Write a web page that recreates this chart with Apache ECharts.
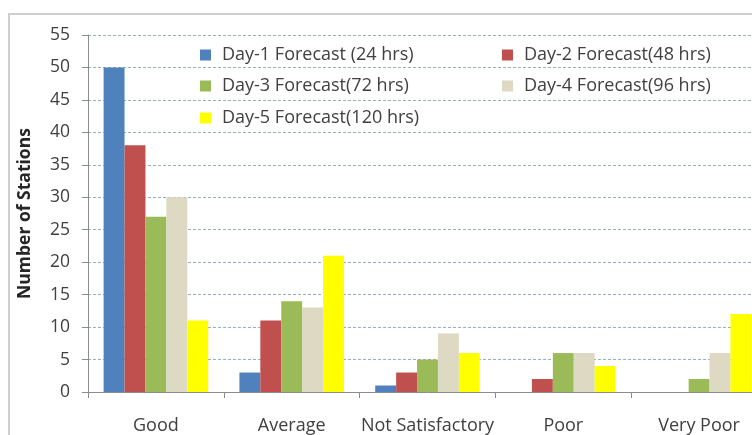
<!DOCTYPE html>
<html><head><meta charset="utf-8">
<script src="https://cdn.jsdelivr.net/npm/echarts@6/dist/echarts.min.js"></script>
<style>html,body{margin:0;padding:0;background:#fff;overflow:hidden;width:752px;height:435px}#c{width:770px;height:435px}</style>
</head><body><div id="c"></div>
<script>
const categories = ['Good', 'Average', 'Not Satisfactory', 'Poor', 'Very Poor'];
const seriesNames = ['Day-1 Forecast (24 hrs)', 'Day-2 Forecast(48 hrs)', 'Day-3 Forecast(72 hrs)', 'Day-4 Forecast(96 hrs)', 'Day-5 Forecast(120 hrs)'];
const day1 = [50, 3, 1, 0, 0];
const day2 = [38, 11, 3, 2, 0];
const day3 = [27, 14, 5, 6, 2];
const day4 = [30, 13, 9, 6, 6];
const day5 = [11, 21, 6, 4, 12];
const yTicks = [0, 55, 5]; // min, max, interval
const colors = ['#4F81BD', '#C0504D', '#9BBB59', '#DDD9C3', '#FFFF00'];

const font = 'Open Sans';
const values = [day1, day2, day3, day4, day5];
const legendPos = [[200, 46], [502, 46], [200, 77], [502, 77], [200, 109]];

const chart = echarts.init(document.getElementById('c'));
chart.setOption({
  animation: false,
  color: colors,
  textStyle: { fontFamily: font },
  graphic: [{ type: 'rect', shape: { x: 9, y: 14, width: 900, height: 600 }, style: { fill: 'none', stroke: '#cfcfcf', lineWidth: 2 }, silent: true }],
  legend: seriesNames.map((n, i) => ({
    data: [n], left: legendPos[i][0], top: legendPos[i][1], padding: 0,
    itemWidth: 11, itemHeight: 11, icon: 'rect',
    textStyle: { fontFamily: font, fontSize: 18, color: '#404040', padding: [0, 0, 0, 6] }
  })),
  grid: { left: 88, top: 35, bottom: 42, right: 3, containLabel: false },
  xAxis: {
    type: 'category', data: categories,
    axisLine: { lineStyle: { color: '#8c8c8c', width: 1 } },
    axisTick: { show: true, length: 6, lineStyle: { color: '#8c8c8c' } },
    axisLabel: { fontSize: 18, color: '#404040', margin: 25, fontFamily: font, interval: 0 }
  },
  yAxis: {
    type: 'value', min: yTicks[0], max: yTicks[1], interval: yTicks[2],
    name: 'Number of Stations', nameLocation: 'middle', nameGap: 54,
    nameTextStyle: { fontSize: 17.5, fontWeight: 'bold', color: '#262626', fontFamily: font, padding: [0, 0, 0, 0] },
    axisLine: { show: true, lineStyle: { color: '#8c8c8c' } },
    axisTick: { show: true, length: 6, lineStyle: { color: '#8c8c8c' } },
    axisLabel: { fontSize: 17.5, color: '#404040', margin: 18, fontFamily: font },
    splitLine: { lineStyle: { color: '#93aecb', type: [3, 2], width: 1 } }
  },
  series: values.map((v, i) => ({
    name: seriesNames[i], type: 'bar', data: v,
    barGap: '0%', barCategoryGap: '23%'
  }))
});
</script></body></html>
